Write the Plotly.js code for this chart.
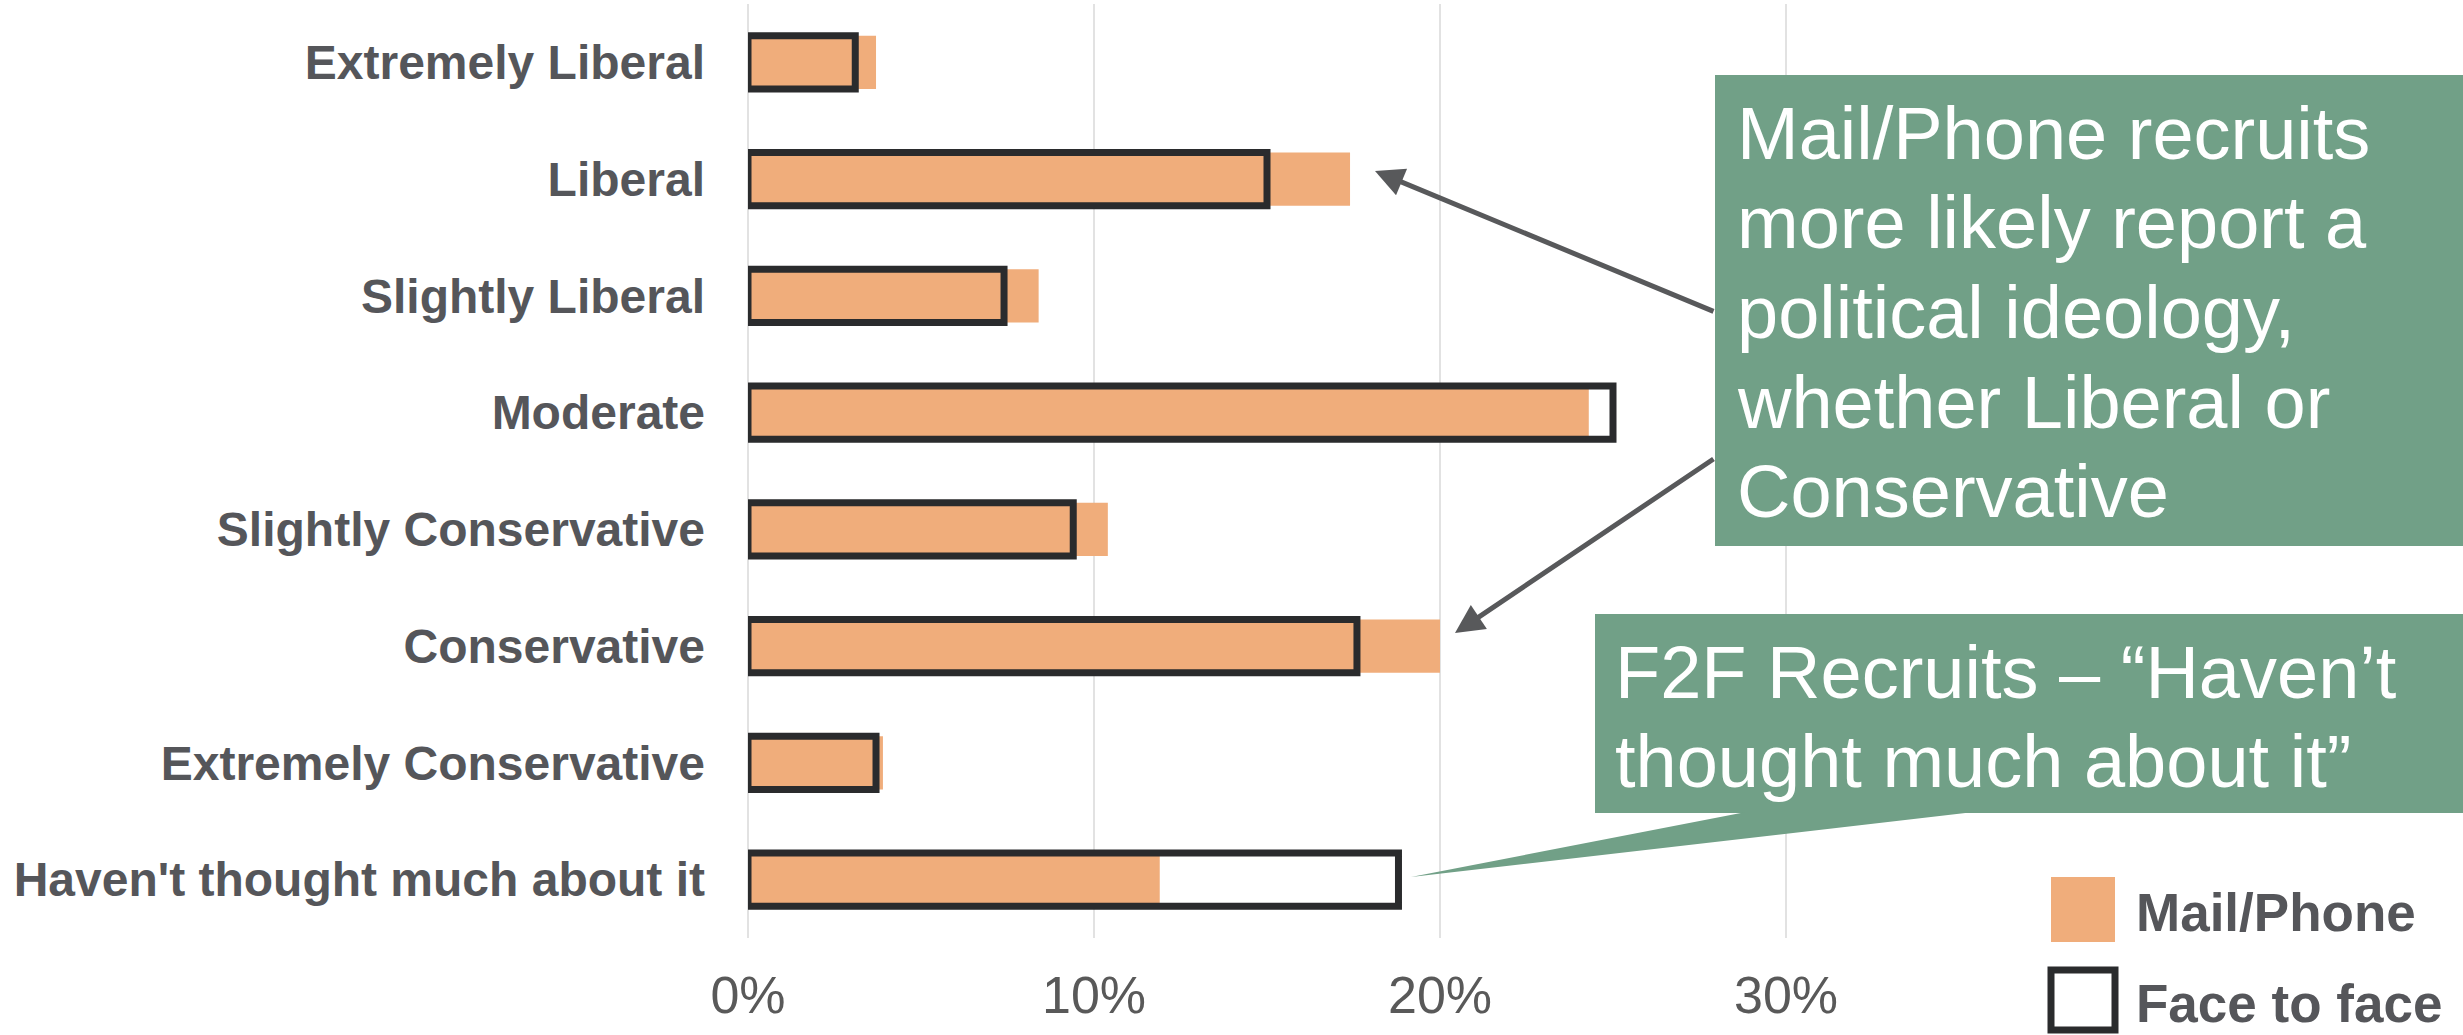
<!DOCTYPE html>
<html>
<head>
<meta charset="utf-8">
<script src="https://cdn.plot.ly/plotly-3.0.1.min.js"></script>
<style>
  html, body { margin: 0; padding: 0; background: #ffffff; }
  #chart { width: 2463px; height: 1035px; }
</style>
</head>
<body>
<div id="chart"></div>
<script>
// ---- data ----
const categories = [
  'Extremely Liberal',
  'Liberal',
  'Slightly Liberal',
  'Moderate',
  'Slightly Conservative',
  'Conservative',
  'Extremely Conservative',
  "Haven't thought much about it"
];
const mailPhone  = [0.037, 0.174, 0.084, 0.243, 0.104, 0.200, 0.039, 0.119];
const faceToFace = [0.031, 0.150, 0.074, 0.250, 0.094, 0.176, 0.037, 0.188];
const seriesNames = ['Mail/Phone', 'Face to face'];
const xTickVals = [0, 0.1, 0.2, 0.3];
const xTickText = ['0%', '10%', '20%', '30%'];
const calloutIdeology = ['Mail/Phone recruits', 'more likely report a', 'political ideology,', 'whether Liberal or', 'Conservative'];
const calloutF2F = ['F2F Recruits \u2013 \u201cHaven\u2019t', 'thought much about it\u201d'];

// ---- layout geometry (pixels) ----
const W = 2463, H = 1035;
const M = { l: 748, r: 504, t: 4, b: 97 };
const plotW = W - M.l - M.r, plotH = H - M.t - M.b;
const px = x => (x - M.l) / plotW;          // pixel -> paper x
const py = y => (H - M.b - y) / plotH;      // pixel -> paper y

const ORANGE = '#F0AD7B';
const DARK = '#2A2B2D';
const GREEN = '#71A087';
const TEXTGRAY = '#55565A';

const traces = [
  {
    type: 'bar', orientation: 'h', name: seriesNames[0],
    y: categories, x: mailPhone,
    marker: { color: ORANGE, line: { width: 0 } },
    hoverinfo: 'x+y'
  },
  {
    type: 'bar', orientation: 'h', name: seriesNames[1],
    y: categories, x: faceToFace,
    marker: { color: 'rgba(0,0,0,0)', line: { color: DARK, width: 7 } },
    hoverinfo: 'x+y'
  }
];

const shapes = [
  // callout boxes
  { type: 'rect', xref: 'paper', yref: 'paper', x0: px(1715), x1: px(2470), y0: py(546), y1: py(75),
    fillcolor: GREEN, line: { width: 0 }, layer: 'above' },
  { type: 'rect', xref: 'paper', yref: 'paper', x0: px(1595), x1: px(2470), y0: py(813), y1: py(614),
    fillcolor: GREEN, line: { width: 0 }, layer: 'above' },
  { type: 'path', xref: 'paper', yref: 'paper',
    path: 'M' + px(1746) + ',' + py(812) + ' L' + px(1974) + ',' + py(812) + ' L' + px(1411) + ',' + py(877) + ' Z',
    fillcolor: GREEN, line: { width: 0 }, layer: 'above' },
  // legend swatches
  { type: 'rect', xref: 'paper', yref: 'paper', x0: px(2051), x1: px(2115), y0: py(942), y1: py(877),
    fillcolor: ORANGE, line: { width: 0 }, layer: 'above' },
  { type: 'rect', xref: 'paper', yref: 'paper', x0: px(2051), x1: px(2115), y0: py(1030), y1: py(970),
    fillcolor: 'rgba(0,0,0,0)', line: { color: DARK, width: 7 }, layer: 'above' }
];

const annotations = [];
const boxFont = { family: 'Liberation Sans, Arial, sans-serif', size: 74, color: '#FFFFFF' };
calloutIdeology.forEach((t, i) => {
  annotations.push({ xref: 'paper', yref: 'paper', x: px(1735), y: py(133 + i * 89.7),
    xanchor: 'left', yanchor: 'middle', text: t, showarrow: false, font: boxFont });
});
calloutF2F.forEach((t, i) => {
  annotations.push({ xref: 'paper', yref: 'paper', x: px(1613), y: py(672 + i * 89.5),
    xanchor: 'left', yanchor: 'middle', text: t, showarrow: false, font: boxFont });
});
// arrows
const arrowStyle = { showarrow: true, arrowhead: 2, arrowsize: 1.15, arrowwidth: 5, arrowcolor: '#58595B', standoff: 0, startstandoff: 0 };
annotations.push(Object.assign({ xref: 'paper', yref: 'paper', x: px(1375), y: py(171), ax: 340, ay: 141, text: '' }, arrowStyle));
annotations.push(Object.assign({ xref: 'paper', yref: 'paper', x: px(1455), y: py(633), ax: 260, ay: -175, text: '' }, arrowStyle));
// legend labels
const legFont = { family: 'Liberation Sans, Arial, sans-serif', size: 53, color: TEXTGRAY, weight: 'bold' };
seriesNames.forEach((t, i) => {
  annotations.push({ xref: 'paper', yref: 'paper', x: px(2134), y: py(912 + i * 91),
    xanchor: 'left', yanchor: 'middle', text: '<b>' + t + '</b>', showarrow: false, font: legFont });
});

const layout = {
  width: W, height: H,
  margin: M,
  paper_bgcolor: '#FFFFFF', plot_bgcolor: '#FFFFFF',
  barmode: 'overlay',
  bargap: 0.546,
  showlegend: false,
  xaxis: {
    range: [0, 0.35],
    tickvals: xTickVals, ticktext: xTickText,
    showgrid: true, gridcolor: '#E2E2E2', gridwidth: 2,
    zeroline: true, zerolinecolor: '#E2E2E2', zerolinewidth: 2,
    showline: false, ticks: '',
    ticklabelstandoff: 22,
    tickfont: { family: 'Liberation Sans Narrow, Arial Narrow, Liberation Sans, sans-serif', size: 52, color: '#595959' },
    fixedrange: true
  },
  yaxis: {
    type: 'category',
    categoryorder: 'array', categoryarray: categories,
    range: [categories.length - 0.5, -0.5],
    showgrid: false, zeroline: false, showline: false, ticks: '',
    ticklabelstandoff: 42,
    tickfont: { family: 'Liberation Sans, Arial, sans-serif', size: 48, color: TEXTGRAY, weight: 'bold' },
    fixedrange: true
  },
  shapes: shapes,
  annotations: annotations
};

Plotly.newPlot('chart', traces, layout, { displayModeBar: false, staticPlot: true });
</script>
</body>
</html>
